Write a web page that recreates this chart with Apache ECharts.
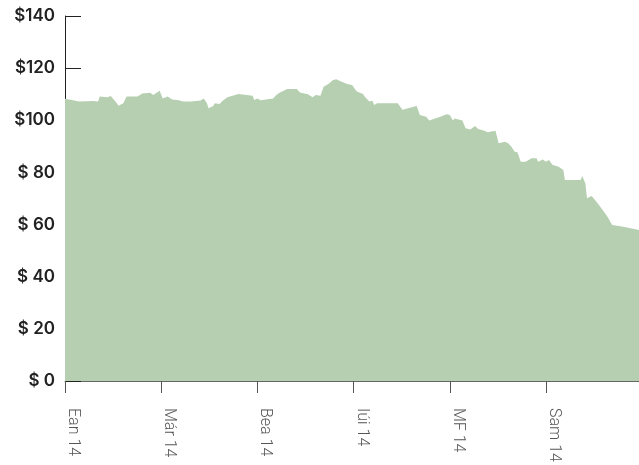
<!DOCTYPE html>
<html>
<head>
<meta charset="utf-8">
<script src="https://cdn.jsdelivr.net/npm/echarts@6/dist/echarts.min.js"></script>
<style>
  html, body { margin: 0; padding: 0; background: #fff; }
  #chart { width: 639px; height: 465px; }
</style>
</head>
<body>
<div id="chart"></div>
<script>
// x position in days from start (axis runs 0..364), price in dollars
var days = [0, 9, 18, 21, 22, 27, 29, 32, 34, 37, 39, 46, 47, 49, 54, 56, 60, 62, 65, 68,
  72, 75, 80, 86, 88, 90, 91, 94, 95, 98, 100, 103, 110, 111, 119, 120, 122, 124, 132, 134,
  136, 141, 147, 149, 154, 157, 159, 160, 162, 164, 167, 170, 172, 174, 179, 182, 185, 189, 190, 193,
  195, 196, 198, 211, 214, 223, 225, 229, 231, 238, 242, 244, 246, 247, 252, 254, 257, 260, 262, 266,
  268, 273, 275, 279, 281, 283, 285, 287, 289, 292, 293, 296, 299, 300, 303, 305, 307, 309, 313, 316,
  317, 327, 328, 329, 330, 331, 332, 334, 337, 341, 344, 347, 354, 364];
var prices = [108.3, 107.2, 107.4, 107.2, 109.1, 108.8, 109.3, 107.2, 105.6, 106.5, 109.1, 109.1, 109.7, 110.3, 110.6, 109.7, 111.3, 108.4, 109.1, 108.0,
  107.7, 107.2, 107.2, 107.6, 108.4, 106.5, 104.6, 105.5, 106.5, 106.2, 107.5, 108.8, 110.1, 109.4, 109.4, 107.8, 108.4, 107.7, 108.4, 109.7,
  110.6, 112.0, 112.0, 110.7, 110.0, 108.8, 109.7, 110.1, 109.4, 112.9, 113.9, 115.5, 115.7, 115.2, 113.9, 113.5, 111.0, 110.1, 109.1, 107.2,
  107.5, 105.9, 106.5, 106.5, 104.0, 105.5, 102.0, 101.4, 99.9, 101.4, 102.3, 102.0, 99.9, 100.7, 99.9, 96.9, 96.5, 97.8, 96.7, 96.0,
  95.4, 96.0, 91.2, 91.8, 91.2, 89.9, 88.0, 87.6, 84.1, 84.1, 83.7, 85.4, 85.4, 84.1, 85.0, 84.1, 84.8, 82.9, 82.2, 80.9,
  77.1, 77.1, 78.6, 79.0, 75.8, 70.1, 69.4, 71.0, 68.8, 65.6, 63.0, 59.8, 59.2, 57.9];
var tickDays = [0, 61, 122, 183, 244, 305];
var tickLabels = ['Ean 14', 'Már 14', 'Bea 14', 'Iúi 14', 'MF 14', 'Sam 14'];

var points = days.map(function (d, i) { return [d, prices[i]]; });

var chart = echarts.init(document.getElementById('chart'));
chart.setOption({
  animation: false,
  grid: { left: 65, right: 0, top: 16, bottom: 84, containLabel: false },
  xAxis: {
    type: 'value',
    min: 0,
    max: 364,
    splitLine: { show: false },
    axisLine: { show: true, lineStyle: { color: '#666', width: 1 } },
    axisTick: { show: true, customValues: tickDays, length: 12, lineStyle: { color: '#555' } },
    axisLabel: {
      customValues: tickDays,
      rotate: -90,
      margin: 27,
      verticalAlign: 'bottom',
      color: '#555',
      fontFamily: 'Roboto',
      fontWeight: 300,
      fontSize: 16,
      formatter: function (v) { return tickLabels[tickDays.indexOf(v)]; }
    }
  },
  yAxis: {
    type: 'value',
    min: 0,
    max: 140,
    interval: 20,
    splitLine: { show: false },
    axisLine: { show: true, lineStyle: { color: '#222', width: 1 } },
    axisTick: { show: true, inside: true, length: 16, lineStyle: { color: '#222' } },
    axisLabel: {
      margin: 10,
      color: '#222',
      fontFamily: 'Inter',
      fontWeight: 600,
      fontSize: 17,
      formatter: function (v) { return v < 100 ? '$ ' + v : '$' + v; }
    }
  },
  series: [{
    type: 'line',
    data: points,
    showSymbol: false,
    lineStyle: { width: 0 },
    areaStyle: { color: '#b5cfb0', opacity: 1 },
    z: 1
  }]
});
</script>
</body>
</html>
